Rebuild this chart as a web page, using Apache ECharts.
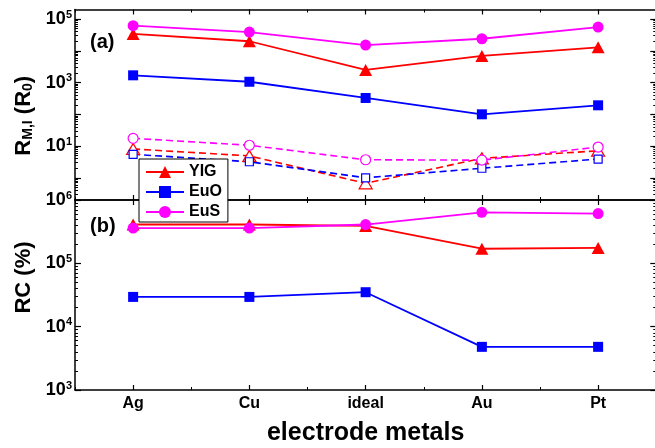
<!DOCTYPE html>
<html>
<head>
<meta charset="utf-8">
<script src="https://cdn.jsdelivr.net/npm/echarts@6/dist/echarts.min.js"></script>
<style>
  html, body { margin: 0; padding: 0; background: #fff; }
  #chart { width: 655px; height: 448px; }
</style>
</head>
<body>
<div id="chart"></div>
<script>
// electrode metals on the shared x axis
const metals = ['Ag', 'Cu', 'ideal', 'Au', 'Pt'];

// panel (a): R_M (solid) and R_I (dashed), in units of R0
const yigRM = [34000, 20000, 2500, 6900, 12900];
const euoRM = [1690, 1060, 327, 100, 192];
const eusRM = [62000, 39000, 15200, 24000, 56000];
const yigRI = [8.1, 4.9, 0.67, 4.1, 7.1];
const euoRI = [5.5, 3.2, 1.0, 2.0, 3.9];
const eusRI = [17.5, 10.6, 3.7, 3.6, 9.3];

// panel (b): RC in percent
const yigRC = [410000, 410000, 390000, 170000, 175000];
const euoRC = [29500, 29500, 35000, 4800, 4800];
const eusRC = [360000, 360000, 410000, 640000, 610000];

// log axis ranges and tick values
const aRange = [0.2, 200000];
const aMajor = [1, 10, 100, 1000, 10000, 100000];
const aLabeled = [10, 1000, 100000];
const bRange = [1000, 1000000];
const bMajor = [1000, 10000, 100000, 1000000];
const bLabeled = [1000, 10000, 100000, 1000000];

const FONT = "'Liberation Sans', Arial, sans-serif";
const RED = '#ff0000', BLUE = '#0000ff', MAG = '#ff00ff';

// 2..9 times each power of ten inside a range, for log minor ticks
function minorTicks(range) {
  const out = [];
  for (let e = -2; e <= 7; e++) {
    for (let m = 2; m <= 9; m++) {
      const v = m * Math.pow(10, e);
      if (v > range[0] * 1.0001 && v < range[1] * 0.9999) out.push(v);
    }
  }
  return out;
}

const axisLineStyle = { color: '#000', width: 1.5 };

function supLabel(v) {
  const e = Math.round(Math.log10(v));
  return '{b|10}{s|' + e + '}';
}

// left/right log axes of one panel: major ticks, minor ticks, mirrored on the right
function yAxisSet(grid, range, major, labeled, nameCfg) {
  const base = {
    type: 'log', logBase: 10, gridIndex: grid, min: range[0], max: range[1],
    splitLine: { show: false }, minorTick: { show: false }
  };
  const leftMajor = Object.assign({}, base, {
    position: 'left',
    axisLine: { show: true, onZero: false, lineStyle: axisLineStyle },
    axisTick: { show: true, inside: true, length: 6, customValues: major, lineStyle: { color: '#000', width: 1.2 } },
    axisLabel: {
      show: true, customValues: labeled, margin: 3, formatter: supLabel,
      showMinLabel: true, showMaxLabel: true,
      color: '#000', fontFamily: FONT, fontWeight: 'bold', fontSize: 18,
      rich: {
        b: { fontFamily: FONT, fontWeight: 'bold', fontSize: 18, color: '#000' },
        s: { fontFamily: FONT, fontWeight: 'bold', fontSize: 11, color: '#000', padding: [0, 0, 9, 0] }
      }
    }
  }, nameCfg);
  const leftMinor = Object.assign({}, base, {
    position: 'left',
    axisLine: { show: false, onZero: false },
    axisTick: { show: true, inside: true, length: 3, customValues: minorTicks(range), lineStyle: { color: '#000', width: 1 } },
    axisLabel: { show: false, customValues: minorTicks(range) }
  });
  const rightMajor = Object.assign({}, base, {
    position: 'right',
    axisLine: { show: true, onZero: false, lineStyle: axisLineStyle },
    axisTick: { show: true, inside: true, length: 6, customValues: major, lineStyle: { color: '#000', width: 1.2 } },
    axisLabel: { show: false, customValues: major }
  });
  const rightMinor = Object.assign({}, base, {
    position: 'right',
    axisLine: { show: false, onZero: false },
    axisTick: { show: true, inside: true, length: 3, customValues: minorTicks(range), lineStyle: { color: '#000', width: 1 } },
    axisLabel: { show: false, customValues: minorTicks(range) }
  });
  return [leftMajor, leftMinor, rightMajor, rightMinor];
}

// bottom/top category axes of one panel: ticks at the metals and short ticks between them
function xAxisSet(grid, withLabels) {
  const base = { type: 'category', data: metals, boundaryGap: true, gridIndex: grid, splitLine: { show: false } };
  const mk = (pos, major, showLine, labels) => Object.assign({}, base, {
    position: pos,
    axisLine: { show: showLine, onZero: false, lineStyle: axisLineStyle },
    axisTick: { show: true, inside: true, interval: 0, alignWithLabel: major, length: major ? 5 : 3,
                lineStyle: { color: '#000', width: major ? 1.2 : 1 } },
    axisLabel: labels ? {
      show: true, interval: 0, margin: 6, color: '#000',
      fontFamily: FONT, fontWeight: 'bold', fontSize: 16
    } : { show: false }
  });
  const bottomMajor = mk('bottom', true, true, withLabels);
  if (withLabels) {
    Object.assign(bottomMajor, {
      name: 'electrode metals', nameLocation: 'middle', nameGap: 31,
      nameTextStyle: { fontFamily: FONT, fontWeight: 'bold', fontSize: 25, color: '#000' }
    });
  }
  return [bottomMajor, mk('bottom', false, false, false), mk('top', true, true, false), mk('top', false, false, false)];
}

const nameA = {
  name: '{m|R}{sub|M,I}{m| (R}{sub|0}{m|)}',
  nameLocation: 'middle', nameGap: 39, nameRotate: 90,
  nameTextStyle: {
    padding: [0, 22, 0, 0],
    rich: {
      m: { fontFamily: FONT, fontWeight: 'bold', fontSize: 22, color: '#000' },
      sub: { fontFamily: FONT, fontWeight: 'bold', fontSize: 14, color: '#000', padding: [9, 0, 0, 0] }
    }
  }
};
const nameB = {
  name: 'RC (%)',
  nameLocation: 'middle', nameGap: 39, nameRotate: 90,
  nameTextStyle: { fontFamily: FONT, fontWeight: 'bold', fontSize: 22, color: '#000', padding: [0, 0, 0, 35] }
};

function solid(name, data, color, symbol, size, xi, yi) {
  return {
    name, type: 'line', data, xAxisIndex: xi, yAxisIndex: yi,
    symbol, symbolSize: size, showSymbol: true,
    lineStyle: { color, width: 1.8 },
    itemStyle: { color, borderWidth: 0 },
    emphasis: { disabled: true }, z: 3
  };
}
function dashed(name, data, color, symbol, size) {
  return {
    name, type: 'line', data, xAxisIndex: 0, yAxisIndex: 0,
    symbol, symbolSize: size, showSymbol: true,
    lineStyle: { color, width: 1.6, type: [7, 4] },
    itemStyle: { color: '#fff', borderColor: color, borderWidth: 1.2 },
    emphasis: { disabled: true }, z: 2
  };
}

const option = {
  animation: false,
  backgroundColor: '#fff',
  grid: [
    { left: 75, top: 9.5, width: 581.25, height: 190.5, outerBoundsMode: 'none', containLabel: false },
    { left: 75, top: 200, width: 581.25, height: 190, outerBoundsMode: 'none', containLabel: false }
  ],
  xAxis: [].concat(xAxisSet(0, false), xAxisSet(1, true)),
  yAxis: [].concat(yAxisSet(0, aRange, aMajor, aLabeled, nameA), yAxisSet(1, bRange, bMajor, bLabeled, nameB)),
  legend: {
    data: ['YIG', 'EuO', 'EuS'],
    orient: 'vertical', left: 139, top: 159,
    itemWidth: 38, itemHeight: 15, itemGap: 4,
    padding: [5, 6, 2, 6],
    backgroundColor: '#fff', borderColor: '#000', borderWidth: 1, borderRadius: 0,
    selectedMode: false,
    textStyle: { fontFamily: FONT, fontWeight: 'bold', fontSize: 16, color: '#000' }
  },
  graphic: [
    { type: 'text', left: 90, top: 32, z: 10,
      style: { text: '(a)', font: "bold 20px 'Liberation Sans', Arial, sans-serif", fill: '#000' } },
    { type: 'text', left: 90, top: 216, z: 10,
      style: { text: '(b)', font: "bold 20px 'Liberation Sans', Arial, sans-serif", fill: '#000' } }
  ],
  series: [
    dashed('YIG R_I', yigRI, RED, 'triangle', [13, 11]),
    dashed('EuO R_I', euoRI, BLUE, 'rect', 8),
    dashed('EuS R_I', eusRI, MAG, 'circle', 10),
    solid('YIG', yigRM, RED, 'triangle', [13, 12], 0, 0),
    solid('EuO', euoRM, BLUE, 'rect', 10, 0, 0),
    solid('EuS', eusRM, MAG, 'circle', 11, 0, 0),
    solid('YIG', yigRC, RED, 'triangle', [13, 12], 4, 4),
    solid('EuO', euoRC, BLUE, 'rect', 10, 4, 4),
    solid('EuS', eusRC, MAG, 'circle', 11, 4, 4)
  ]
};

const chart = echarts.init(document.getElementById('chart'), null, { renderer: 'canvas' });
chart.setOption(option);
</script>
</body>
</html>
